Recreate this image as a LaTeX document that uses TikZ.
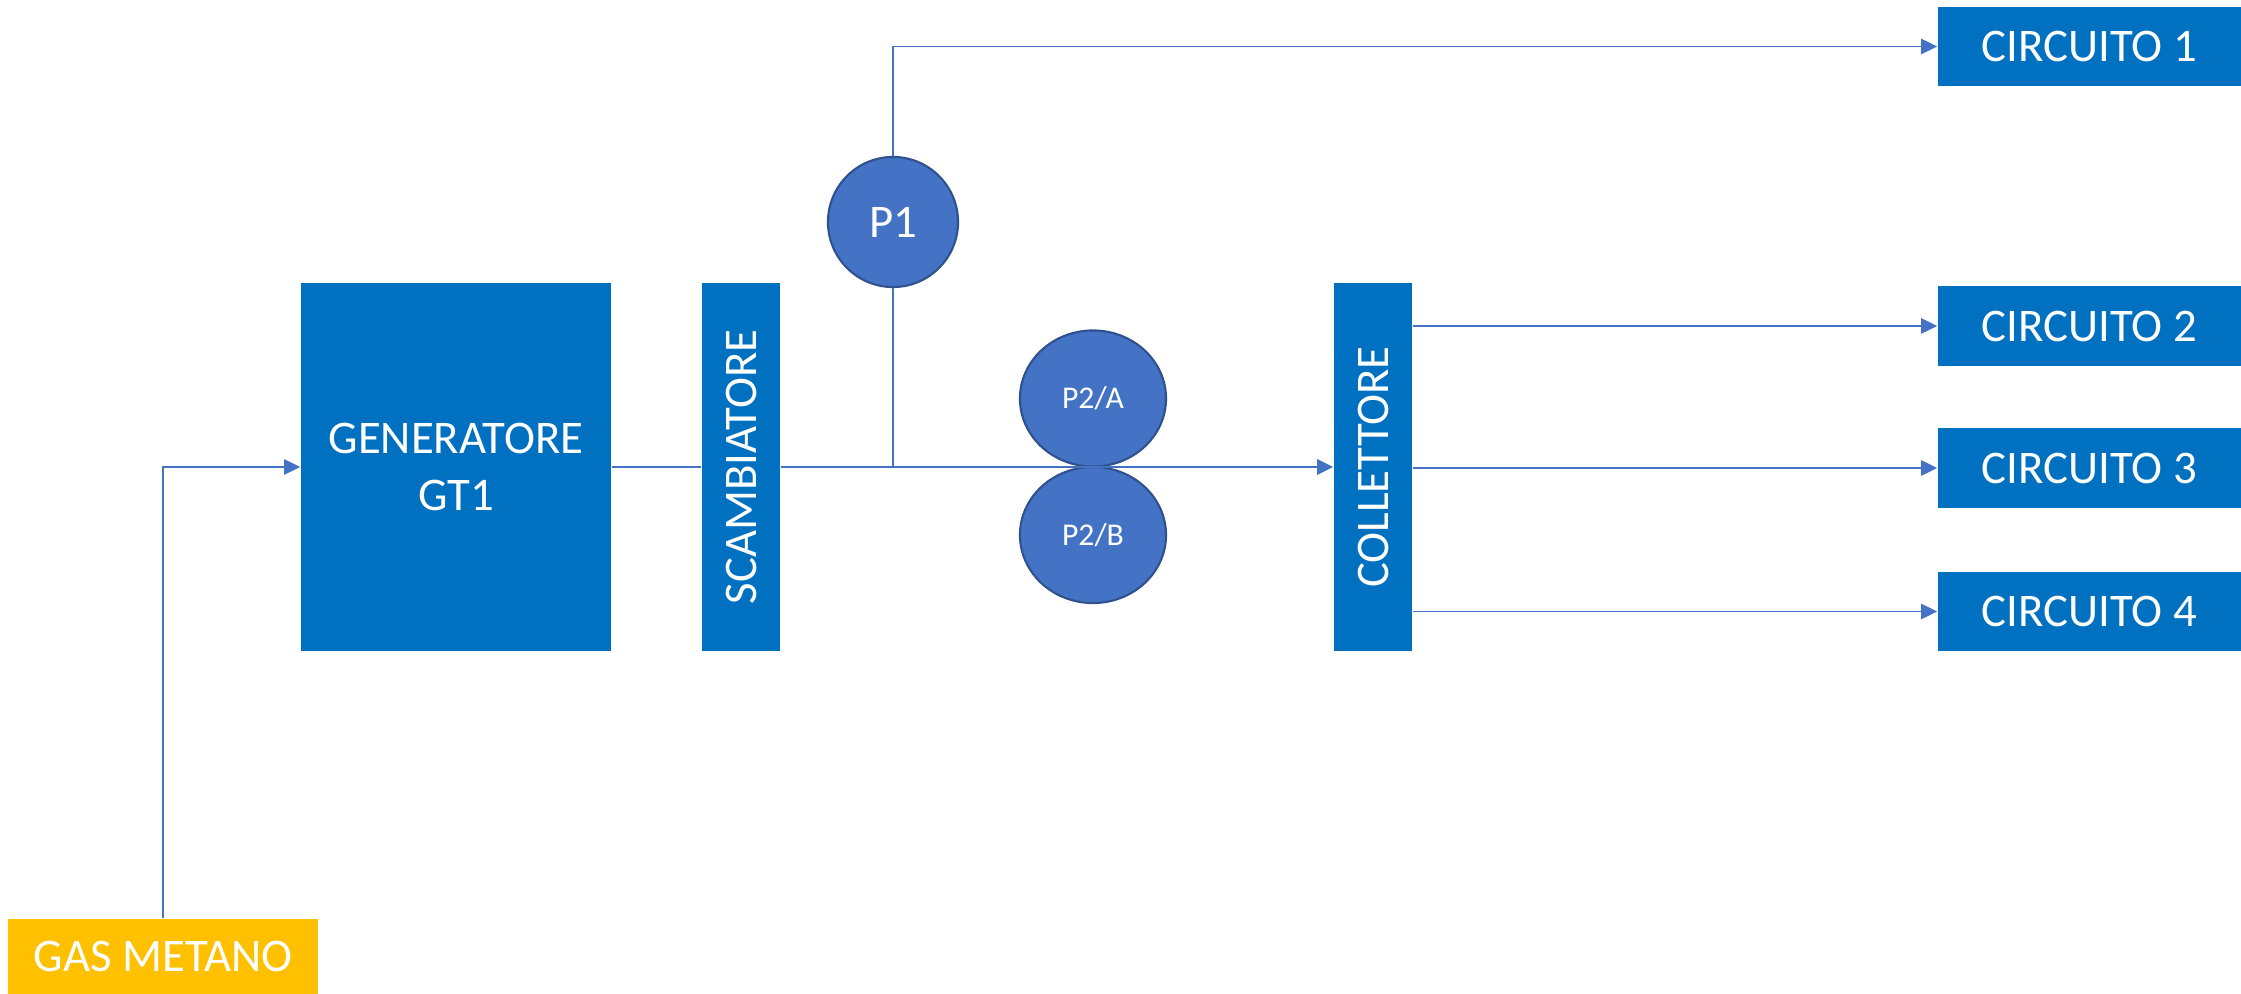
\documentclass[tikz,border=0pt]{standalone}
\usepackage{fontspec}
\setmainfont{Carlito}
\usepackage{tikz}
\usetikzlibrary{shapes.geometric}
\usetikzlibrary{arrows.meta}
\definecolor{boxblue}{HTML}{0070C0}
\definecolor{pumpblue}{HTML}{4472C4}
\definecolor{pumpedge}{HTML}{2F528F}
\definecolor{gasyellow}{HTML}{FFC000}
\tikzset{x=0.01cm, y=-0.01cm,
      block/.style={fill=boxblue, text=white, inner sep=0pt,
      font=\fontsize{13.3}{16}\selectfont},
      pump/.style={ellipse, fill=pumpblue, draw=pumpedge,
      line width=0.6pt, text=white, inner sep=0pt},
      pipe/.style={draw=pumpblue, line width=0.45pt},
      flow/.style={pipe,
      -{Triangle[length=4.6pt,width=4.4pt]}}}

\begin{document}
\begin{tikzpicture}
          \useasboundingbox (0,0) rectangle (2241,994);
          \node[block, minimum width=3.10cm, minimum height=3.68cm, align=center] (gt1) at (456,467) {GENERATORE\\GT1};
          \node[block, rotate=90, minimum width=3.68cm, minimum height=0.78cm] (sc) at (741,467) {SCAMBIATORE};
          \node[block, rotate=90, minimum width=3.68cm, minimum height=0.78cm] (coll) at (1373,467) {COLLETTORE};
          \node[block, fill=gasyellow, minimum width=3.10cm, minimum height=0.75cm] (gas) at (163,956.5) {GAS METANO};
          \node[block, minimum width=3.03cm, minimum height=0.79cm] (c1) at (2089.5,46.5) {CIRCUITO 1};
          \node[block, minimum width=3.03cm, minimum height=0.79cm] (c2) at (2089.5,326) {CIRCUITO 2};
          \node[block, minimum width=3.03cm, minimum height=0.79cm] (c3) at (2089.5,468) {CIRCUITO 3};
          \node[block, minimum width=3.03cm, minimum height=0.79cm] (c4) at (2089.5,611.5) {CIRCUITO 4};
          \node[pump, minimum size=1.30cm, font=\fontsize{13.3}{16}\selectfont] (p1) at (893,222) {P1};
          \node[pump, minimum width=1.46cm, minimum height=1.36cm, font=\fontsize{9}{11}\selectfont] (p2a) at (1093,398.5) {P2/A};
          \node[pump, minimum width=1.46cm, minimum height=1.36cm, font=\fontsize{9}{11}\selectfont] (p2b) at (1093,535) {P2/B};
          \coordinate (tee) at (893,467);
          \draw[flow] (gas) |- (gt1);
          \draw[pipe] (gt1) -- (sc);
          \draw[flow] (sc) -- (coll);
          \draw[pipe] (tee) -- (p1);
          \draw[flow] (p1) |- (c1);
          \draw[flow] (coll.south |- c2) -- (c2);
          \draw[flow] (coll.south |- c3) -- (c3);
          \draw[flow] (coll.south |- c4) -- (c4);
       \end{tikzpicture}
\end{document}
